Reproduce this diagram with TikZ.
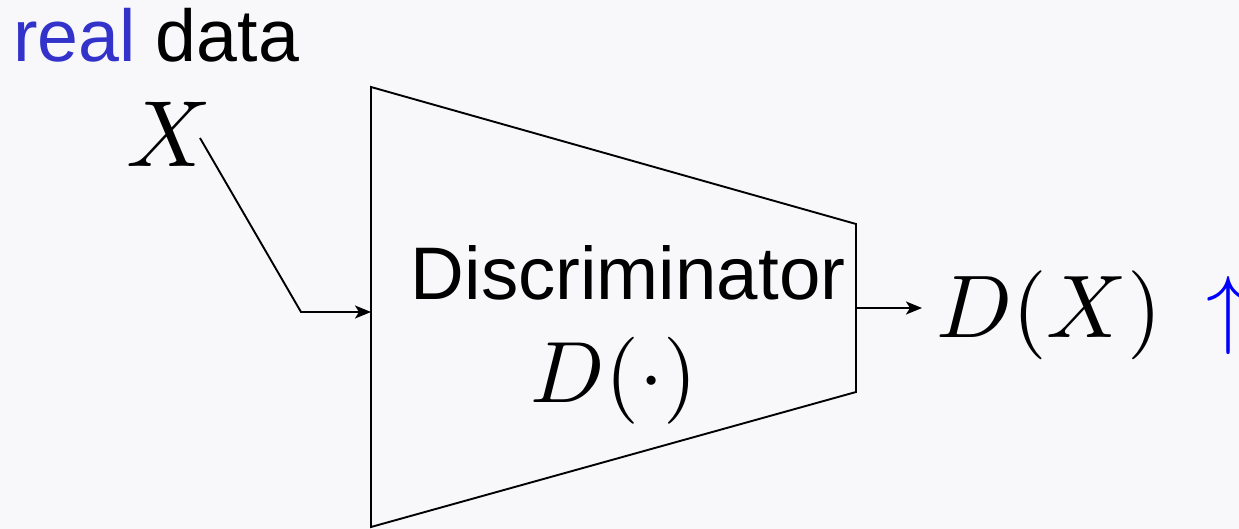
\documentclass[tikz,border=0pt]{standalone}
\usepackage{fontspec}
\setsansfont{Liberation Sans}
\usetikzlibrary{arrows.meta}
\definecolor{bg}{HTML}{F8F8FA}
\definecolor{realblue}{HTML}{3333CC}
\definecolor{upblue}{HTML}{0000FF}
\tikzset{
  lbl/.style={inner sep=0pt, outer sep=0pt},
  conn/.style={line width=1.9pt, -{Stealth[length=16pt,width=13pt,inset=4pt]}},
  shapeline/.style={line width=1.9pt, line join=miter}
}
\begin{document}
\begin{tikzpicture}[x=1pt,y=-1pt]
\fill[bg] (0,0) rectangle (1239,529);
\useasboundingbox (0,0) rectangle (1239,529);
% labels
\node[lbl, anchor=base west] (real) at (13,62) {\sffamily\fontsize{73.5}{80}\selectfont\textcolor{realblue}{real} data};
\node[lbl, anchor=base] (X) at (169,167) {\scalebox{9.4}{$X$}};
% trapezoid
\coordinate (tl) at (371,87);
\coordinate (tr) at (856,224);
\coordinate (br) at (856,392);
\coordinate (bl) at (371,527);
\draw[shapeline] (tl) -- (tr) -- (br) -- (bl) -- cycle;
\node[lbl, anchor=base] (disc) at (628,299) {\sffamily\fontsize{74.5}{80}\selectfont Discriminator};
\node[lbl, anchor=base] (Dfun) at (614,402) {\scalebox{8.7}{$D(\cdot)$}};
% output
\node[lbl, anchor=base west] (DX) at (936,337) {\scalebox{8.9}{$D(X)$}};
\node[lbl, anchor=base west] (up) at (1206,337) {\scalebox{8.8}{\textcolor{upblue}{$\uparrow$}}};
% connectors
\coordinate (xs) at (200,138);
\coordinate (bend) at (301,312);
\coordinate (inL) at (371,312);
\coordinate (outR) at (856,308);
\coordinate (outE) at (922,308);
\draw[conn] (xs) -- (bend) -- (inL);
\draw[conn] (outR) -- (outE);
\end{tikzpicture}
\end{document}
